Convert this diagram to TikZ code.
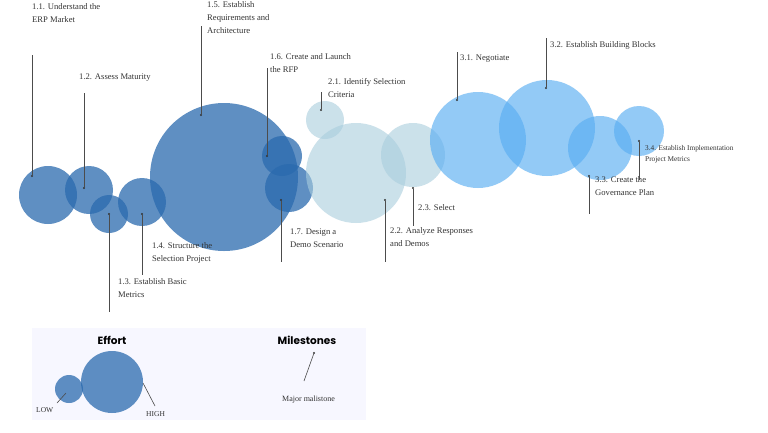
\documentclass[tikz,border=0pt]{standalone}
\usepackage{fontspec}
\setmainfont{Liberation Serif}
\newfontfamily\popp{Poppins}
\begin{document}
\begin{tikzpicture}[x=1pt,y=-1pt,
  gA/.style={fill=c1,fill opacity=0.75,draw=none},
  gB/.style={fill=c2,fill opacity=0.6,draw=none},
  gC/.style={fill=c3,fill opacity=0.65,draw=none},
  lbl/.style={anchor=base west,inner sep=0pt,font=\fontsize{8.6}{10}\selectfont,text=black!80,align=left},
  lead/.style={draw=black!70,line width=0.6pt},
  dotm/.style={circle,fill=black!80,inner sep=0pt,minimum size=2.2pt}]
\definecolor{c1}{HTML}{2A6AAE}
\definecolor{c2}{HTML}{A9CDDD}
\definecolor{c3}{HTML}{5AAEF2}
\useasboundingbox (0,0) rectangle (768,432);
\fill[white] (0,0) rectangle (768,432);
% circles
\fill[gA] (48,195) circle (29);
\fill[gA] (89,190) circle (24);
\fill[gA] (109,214) circle (19);
\fill[gA] (142,202) circle (24);
\fill[gA] (224,177) circle (74);
\fill[gA] (282,156) circle (20);
\fill[gA] (289,188) circle (24);
\fill[gB] (325,120) circle (19);
\fill[gB] (356,173) circle (50);
\fill[gB] (413,155) circle (32);
\fill[gC] (478,140) circle (48);
\fill[gC] (547,128) circle (48);
\fill[gC] (600,148) circle (32);
\fill[gC] (639,131) circle (25);
% labels
\node[lbl] (t11) at (32,22) {1.1. Understand the\\[3pt]ERP Market};
\node[lbl] (t12) at (79,79) {1.2. Assess Maturity};
\node[lbl] (t13) at (118,297) {1.3. Establish Basic\\[3pt]Metrics};
\node[lbl] (t14) at (152,261) {1.4. Structure the\\[3pt]Selection Project};
\node[lbl] (t15) at (207,33) {1.5. Establish\\[3pt]Requirements and\\[3pt]Architecture};
\node[lbl] (t16) at (270,72) {1.6. Create and Launch\\[3pt]the RFP};
\node[lbl] (t17) at (290,247) {1.7. Design a\\[3pt]Demo Scenario};
\node[lbl] (t21) at (328,97) {2.1. Identify Selection\\[3pt]Criteria};
\node[lbl] (t22) at (390,246) {2.2. Analyze Responses\\[3pt]and Demos};
\node[lbl] (t23) at (418,210) {2.3. Select};
\node[lbl] (t31) at (460,60) {3.1. Negotiate};
\node[lbl] (t32) at (550,47) {3.2. Establish Building Blocks};
\node[lbl] (t33) at (595,195) {3.3. Create the\\[3pt]Governance Plan};
\node[lbl,font=\fontsize{7.3}{9}\selectfont] (t34) at (645,161) {3.4. Establish Implementation\\[2pt]Project Metrics};
% leaders
\foreach \n/\a/\b/\c in {11/32/55/176,12/84/93/188,15/201/26/115,16/267/68/156,21/321/92/110,31/457/52/100,32/546/38/88}{
  \coordinate (s\n) at (\a,\b); \node[dotm] (d\n) at (\a,\c) {};
  \draw[lead] (s\n) -- (d\n);}
\foreach \n/\a/\b/\c in {13/109/214/312,14/142/214/275,17/281/200/262,22/385/200/262,23/413/188/226,33/589/176/214,34/639/141/180}{
  \node[dotm] (d\n) at (\a,\b) {}; \coordinate (e\n) at (\a,\c);
  \draw[lead] (d\n) -- (e\n);}
% legend
\fill[fill=black!4!blue!3] (32,328) rectangle (366,420);
\node[font=\popp\bfseries\fontsize{10.5}{12}\selectfont] (eff) at (112,340) {Effort};
\node[font=\popp\bfseries\fontsize{10.5}{12}\selectfont] (mil) at (307,340) {Milestones};
\fill[gA] (69,389) circle (14);
\fill[gA] (112,382) circle (31);
\node[lbl,font=\fontsize{7.5}{9}\selectfont] (low) at (36,412) {LOW};
\node[lbl,font=\fontsize{7.5}{9}\selectfont] (high) at (146,416) {HIGH};
\coordinate (lw1) at (66,393); \coordinate (lw2) at (57,403);
\draw[lead] (lw1) -- (lw2);
\coordinate (hg1) at (143,383); \coordinate (hg2) at (155,406);
\draw[lead] (hg1) -- (hg2);
\node[dotm] (md) at (314,353) {};
\coordinate (mc) at (304,381);
\draw[lead] (md) -- (mc);
\node[lbl,font=\fontsize{8}{9}\selectfont] (mm) at (282,401) {Major malistone};
\end{tikzpicture}
\end{document}
